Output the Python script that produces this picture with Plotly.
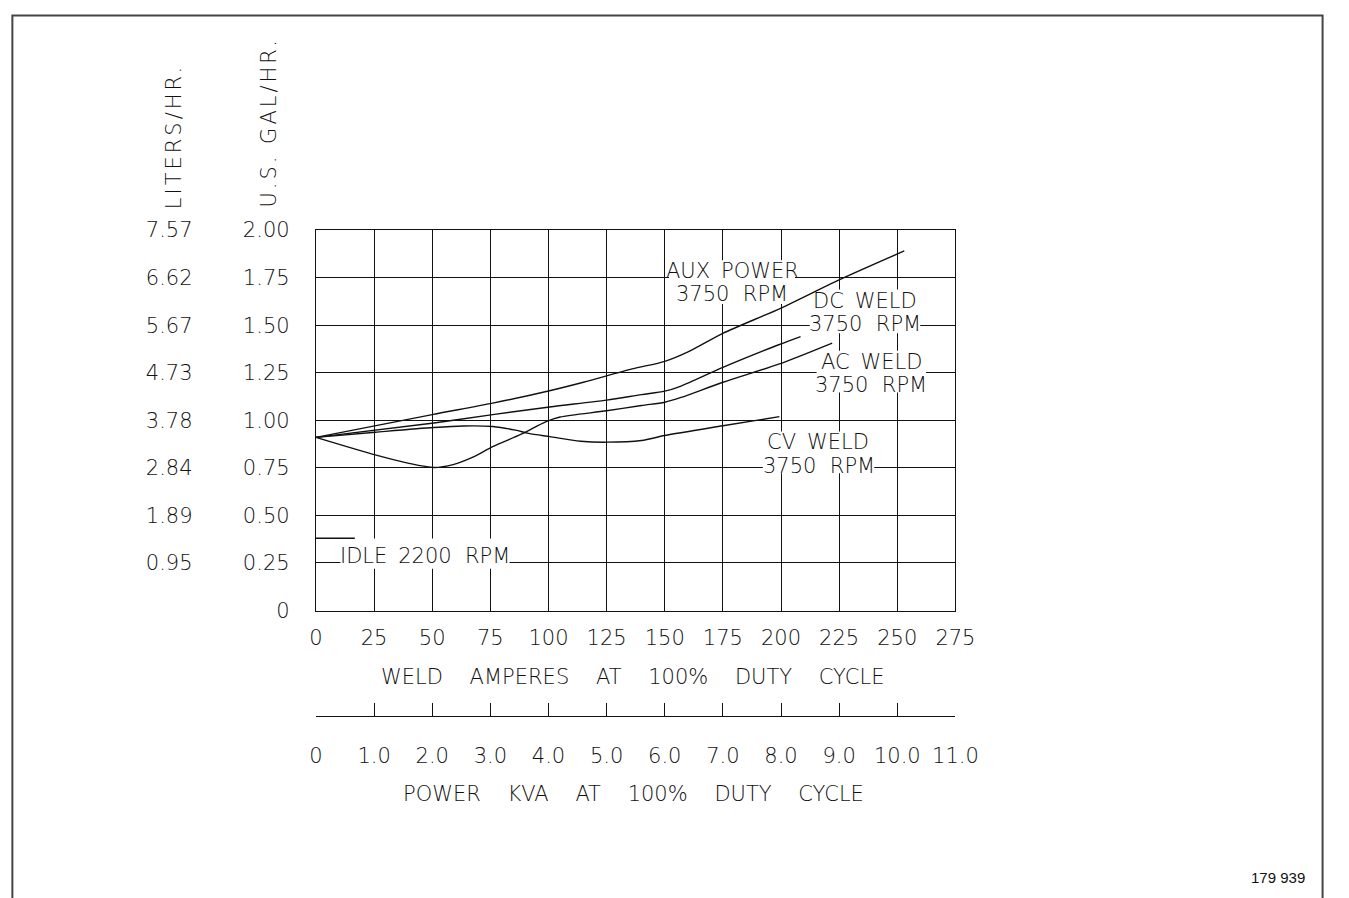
import plotly.graph_objects as go

W, H = 1349, 898

# ---------------- data ----------------
amp_ticks = [0, 25, 50, 75, 100, 125, 150, 175, 200, 225, 250, 275]
gal_ticks = [0, 0.25, 0.5, 0.75, 1.0, 1.25, 1.5, 1.75, 2.0]
gal_text = ["0", "0.25", "0.50", "0.75", "1.00", "1.25", "1.50", "1.75", "2.00"]
liter_ticks = [0.25, 0.5, 0.75, 1.0, 1.25, 1.5, 1.75, 2.0]
liter_text = ["0.95", "1.89", "2.84", "3.78", "4.73", "5.67", "6.62", "7.57"]
kva_ticks = [0, 1, 2, 3, 4, 5, 6, 7, 8, 9, 10, 11]
kva_text = ["0", "1.0", "2.0", "3.0", "4.0", "5.0", "6.0", "7.0", "8.0", "9.0", "10.0", "11.0"]

aux_amps = [0, 50, 76, 100, 115, 136, 150, 160, 175, 200, 225, 253]
aux_gal = [0.91, 1.03, 1.09, 1.154, 1.20, 1.27, 1.31, 1.36, 1.457, 1.59, 1.738, 1.89]

dc_amps = [0, 50.7, 76, 100.5, 125, 140, 150, 157, 175, 199, 208.4]
dc_gal = [0.91, 0.986, 1.03, 1.07, 1.106, 1.135, 1.153, 1.18, 1.278, 1.397, 1.44]

ac_amps = [0, 25.5, 39.5, 50.7, 59, 67.5, 76, 88.5, 99, 105, 125, 140, 150, 157, 175, 199, 222]
ac_gal = [0.91, 0.818, 0.775, 0.752, 0.767, 0.806, 0.861, 0.928, 0.993, 1.017, 1.05, 1.078,
          1.095, 1.12, 1.20, 1.295, 1.406]

cv_amps = [0, 25.5, 50.6, 63.3, 76, 85.8, 91.4, 100.5, 113.8, 125, 140, 150, 175, 199.3]
cv_gal = [0.91, 0.937, 0.962, 0.97, 0.967, 0.948, 0.931, 0.914, 0.89, 0.885, 0.894, 0.92, 0.971, 1.019]

idle_amps = [0, 16.7]
idle_gal = [0.38, 0.38]

# label text (two lines each) and their pixel boxes
NB = "\u00a0"
SP = "\u00a0\u2009"
labels = [
    ("AUX" + SP + "POWER", "3750" + NB * 2 + "RPM", 741.5, 266.5, 741.7, 289.8, (677, 255, 806, 300)),
    ("DC" + SP + "WELD", "3750" + NB * 2 + "RPM", 877.5, 297.0, 878.0, 320.6, (821, 285, 934, 330)),
    ("AC" + SP + "WELD", "3750" + NB * 2 + "RPM", 884.0, 359.5, 884.0, 383.0, (828, 348, 940, 391)),
    ("CV" + SP + "WELD", "3750" + NB * 2 + "RPM", 829.0, 442.3, 830.0, 466.0, (773, 431, 887, 474)),
]
idle_label = ("IDLE" + SP + "2200" + NB * 2 + "RPM", 427.5, 559.4, (341, 541, 514, 572))

FONT = "DejaVu Sans"
INK = "#111111"

PX0, PX1, PY0, PY1 = 316, 970, 615, 224


def px(x):
    return x / W


def py(y):
    return 1 - y / H


def dx(x):  # pixel -> amps
    return (x - PX0) * 275 / (PX1 - PX0)


def dy(y):  # pixel -> gal/hr
    return (PY0 - y) * 2 / (PY0 - PY1)


xd = [px(PX0), px(PX1)]
yd = [py(PY0), py(PY1)]

fig = go.Figure()
line_style = dict(color=INK, width=1.4, shape="spline", smoothing=0.8)
for xs, ys in [(aux_amps, aux_gal), (dc_amps, dc_gal), (ac_amps, ac_gal), (cv_amps, cv_gal)]:
    fig.add_trace(go.Scatter(x=xs, y=ys, mode="lines", line=line_style, hoverinfo="skip",
                             showlegend=False))
fig.add_trace(go.Scatter(x=idle_amps, y=idle_gal, mode="lines", line=dict(color=INK, width=1.4),
                         hoverinfo="skip", showlegend=False))
# liters axis carrier
fig.add_trace(go.Scatter(x=[0], y=[0], yaxis="y2", mode="markers", marker=dict(opacity=0),
                         hoverinfo="skip", showlegend=False))
# kva axis carrier
fig.add_trace(go.Scatter(x=[0], y=[0], xaxis="x2", yaxis="y3", mode="markers",
                         marker=dict(opacity=0), hoverinfo="skip", showlegend=False))

tick_font = dict(family=FONT, size=21, color=INK, weight=200)

shapes = []
annotations = []


def blank(box):
    return dict(type="rect", xref="x", yref="y", x0=dx(box[0]), x1=dx(box[2]),
                y0=dy(box[3]), y1=dy(box[1]), fillcolor="white", line=dict(width=0),
                layer="between")


for l1, l2, x1, y1, x2, y2, box in labels:
    shapes.append(blank(box))
    annotations.append(dict(text=l1, x=px(x1), y=py(y1), xref="paper", yref="paper",
                            showarrow=False, xanchor="center", yanchor="middle", font=tick_font))
    annotations.append(dict(text=l2, x=px(x2), y=py(y2), xref="paper", yref="paper",
                            showarrow=False, xanchor="center", yanchor="middle", font=tick_font))
t, ix, iy, box = idle_label
shapes.append(blank(box))
annotations.append(dict(text=t, x=px(ix), y=py(iy), xref="paper", yref="paper", showarrow=False,
                        xanchor="center", yanchor="middle", font=tick_font))

gap = NB * 4
annotations += [
    dict(text=gap.join(["WELD", "AMPERES", "AT", "100%", "DUTY", "CYCLE"]), x=px(640), y=py(683.4),
         xref="paper", yref="paper", showarrow=False, xanchor="center", yanchor="middle",
         font=tick_font),
    dict(text=gap.join(["POWER", "KVA", "AT", "100%", "DUTY", "CYCLE"]), x=px(640.5), y=py(803.4),
         xref="paper", yref="paper", showarrow=False, xanchor="center", yanchor="middle",
         font=tick_font),
    dict(text='<span style="letter-spacing:3px">LITERS/HR.</span>', textangle=-90, x=px(171),
         y=py(205), xref="paper", yref="paper", showarrow=False, xanchor="center",
         yanchor="bottom", font=tick_font),
    dict(text='<span style="letter-spacing:3px">U.S.' + NB + 'GAL/HR.</span>', textangle=-90,
         x=px(268), y=py(203), xref="paper", yref="paper", showarrow=False, xanchor="center",
         yanchor="bottom", font=tick_font),
    dict(text="179 939", x=px(1300), y=py(889.5), xref="paper", yref="paper", showarrow=False,
         xanchor="center", yanchor="middle",
         font=dict(family="Liberation Sans", size=15, color=INK)),
]

# outer frame
shapes.append(dict(type="rect", xref="paper", yref="paper", x0=px(5.5), x1=px(1345.5),
                   y0=py(920), y1=py(3.5), line=dict(color="#444444", width=2), layer="above"))

fig.update_layout(
    width=W, height=H,
    margin=dict(l=0, r=0, t=0, b=0),
    paper_bgcolor="white", plot_bgcolor="white",
    showlegend=False,
    xaxis=dict(domain=xd, range=[0, 275], tickvals=amp_ticks, ticktext=[str(v) for v in amp_ticks],
               showgrid=True, gridcolor=INK, gridwidth=1.3, showline=True, mirror=True,
               linecolor=INK, linewidth=1.3, zeroline=False, ticks="", tickfont=tick_font,
               ticklabelstandoff=8, fixedrange=True),
    yaxis=dict(domain=yd, range=[0, 2], tickvals=gal_ticks, ticktext=gal_text, showgrid=True,
               gridcolor=INK, gridwidth=1.3, showline=True, mirror=True, linecolor=INK,
               linewidth=1.3, zeroline=False, ticks="", tickfont=tick_font,
               ticklabelstandoff=21, fixedrange=True),
    yaxis2=dict(overlaying="y", anchor="free", position=px(200), side="left", range=[0, 2],
                tickvals=liter_ticks, ticktext=liter_text, showgrid=False, showline=False,
                zeroline=False, ticks="", tickfont=tick_font, ticklabelstandoff=10,
                fixedrange=True),
    xaxis2=dict(domain=xd, anchor="y3", range=[0, 11], tickvals=kva_ticks, ticktext=kva_text,
                ticks="inside", ticklen=13, tickwidth=1.3, tickcolor=INK, showline=True,
                linecolor=INK, linewidth=1.3, showgrid=False, zeroline=False, tickfont=tick_font,
                ticklabelstandoff=21, fixedrange=True),
    yaxis3=dict(domain=[py(723), py(700)], range=[0, 1], visible=False, fixedrange=True),
    shapes=shapes,
    annotations=annotations,
)

fig.write_html(
    "out.html",
    config={"displayModeBar": False},
    post_script="document.body.style.margin='0';document.body.style.overflow='hidden';",
)
